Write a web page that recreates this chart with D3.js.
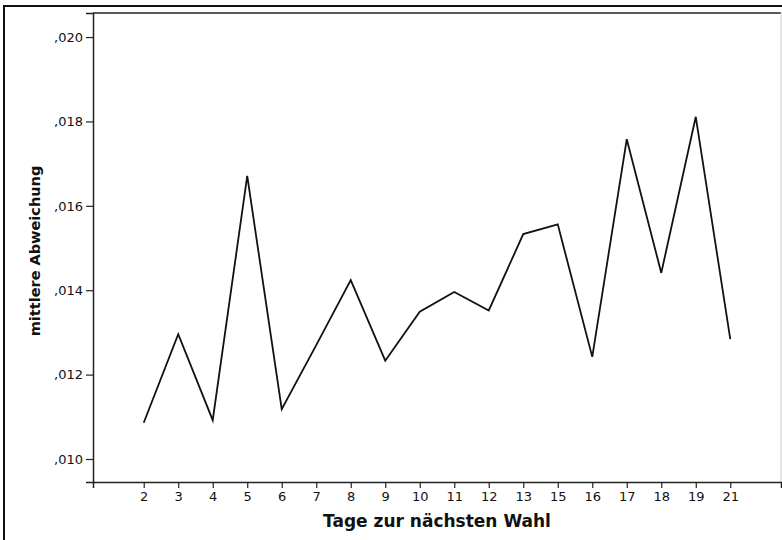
<!DOCTYPE html>
<html>
<head>
<meta charset="utf-8">
<script src="https://cdn.jsdelivr.net/npm/d3@7"></script>
<style>
  body { margin: 0; background: #fff; }
  text { font-family: "DejaVu Sans", Verdana, sans-serif; fill: #111; }
  .tick text { font-size: 13px; }
</style>
</head>
<body>
<div id="chart"></div>
<script>
// Tage zur nächsten Wahl (categorical)
var days = ["2","3","4","5","6","7","8","9","10","11","12","13","15","16","17","18","19","21"]
// mittlere Abweichung
var meanDev = [0.01086, 0.01296, 0.01092, 0.01671, 0.01118, 0.01270, 0.01424, 0.01233, 0.01349,
  0.01396, 0.01352, 0.01533, 0.01556, 0.01242, 0.01758, 0.01441, 0.01811, 0.01284]
var yTicks = [0.010, 0.012, 0.014, 0.016, 0.018, 0.020]

var svgWdth = 782
var svgHt = 540

// plot frame
var plot = { left: 93, top: 13, right: 781, bottom: 482 }

var svg = d3.select('#chart')
  .append('svg')
  .attr('width', svgWdth)
  .attr('height', svgHt)

// outer frame
svg.append('rect')
  .attr('x', 4).attr('y', 6)
  .attr('width', 820).attr('height', 600)
  .attr('fill', 'none')
  .attr('stroke', '#111')
  .attr('stroke-width', 2)

var x = d3.scalePoint()
  .domain(days)
  .range([plot.left, plot.right])
  .padding(1.47)

var y = d3.scaleLinear()
  .domain([0.009455, 0.02057])
  .range([plot.bottom, plot.top])

// plot box: top + right edges
svg.append('line')
  .attr('x1', plot.left).attr('x2', plot.right)
  .attr('y1', plot.top).attr('y2', plot.top)
  .attr('stroke', '#222').attr('stroke-width', 1.5)
svg.append('line')
  .attr('x1', plot.right).attr('x2', plot.right)
  .attr('y1', plot.top).attr('y2', plot.bottom)
  .attr('stroke', '#ccc').attr('stroke-width', 1)

var fmt = function(d) { return d3.format('.3f')(d).replace(/^0\./, ',') }

var yAxis = svg.append('g')
  .attr('transform', `translate(${plot.left},0)`)
  .call(d3.axisLeft(y).tickValues(yTicks).tickFormat(fmt).tickSizeOuter(0).tickSize(7).tickPadding(3))
yAxis.select('.domain').attr('stroke', '#222').attr('stroke-width', 1.5)
yAxis.selectAll('.tick line').attr('stroke', '#222').attr('stroke-width', 1.2)

var xAxis = svg.append('g')
  .attr('transform', `translate(0,${plot.bottom})`)
  .call(d3.axisBottom(x).tickSizeOuter(0).tickSize(6).tickPadding(4))
xAxis.select('.domain').attr('stroke', '#222').attr('stroke-width', 1.5)
xAxis.selectAll('.tick line').attr('stroke', '#222').attr('stroke-width', 1.2)

var line = d3.line()
  .x(function(d, i) { return x(days[i]) })
  .y(function(d) { return y(d) })

svg.append('path')
  .datum(meanDev)
  .attr('d', line)
  .attr('fill', 'none')
  .attr('stroke', '#111')
  .attr('stroke-width', 1.8)
  .attr('stroke-linejoin', 'miter')

// axis titles
svg.append('text')
  .attr('x', (plot.left + plot.right) / 2)
  .attr('y', 527)
  .attr('text-anchor', 'middle')
  .attr('font-size', 17)
  .attr('font-weight', 'bold')
  .text('Tage zur nächsten Wahl')

svg.append('text')
  .attr('transform', 'translate(40,251)rotate(-90)')
  .attr('text-anchor', 'middle')
  .attr('font-size', 14.5)
  .attr('font-weight', 'bold')
  .text('mittlere Abweichung')
</script>
</body>
</html>
